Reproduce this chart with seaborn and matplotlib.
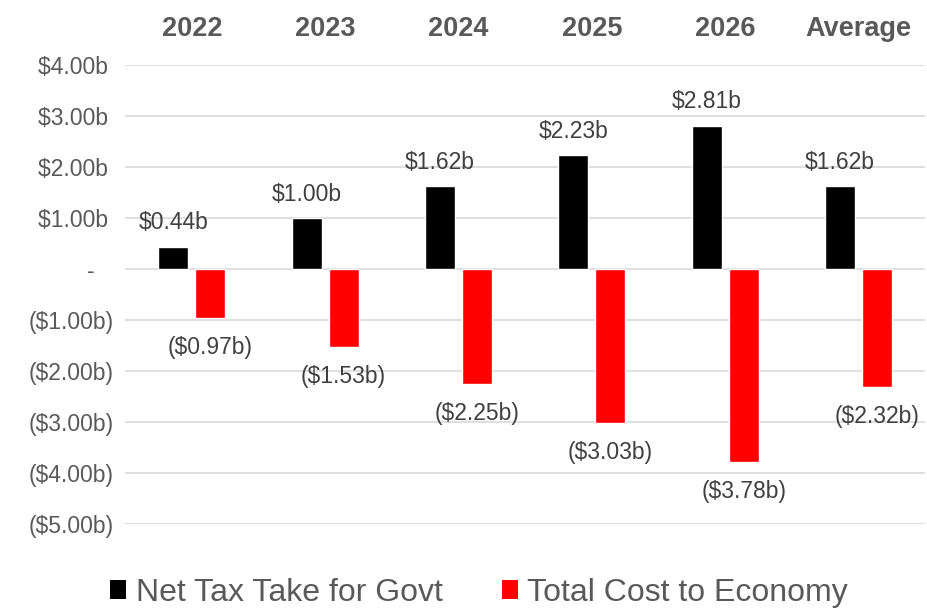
import matplotlib
matplotlib.use("Agg")
import matplotlib.pyplot as plt
import seaborn as sns
import pandas as pd
from matplotlib.patches import Patch

# data (billions)
years = ["2022", "2023", "2024", "2025", "2026", "Average"]
net_tax = [0.44, 1.00, 1.62, 2.23, 2.81, 1.62]
total_cost = [-0.97, -1.53, -2.25, -3.03, -3.78, -2.32]
series = ["Net Tax Take for Govt", "Total Cost to Economy"]
colors = ["#000000", "#ff0000"]
y_ticks = [4, 3, 2, 1, 0, -1, -2, -3, -4, -5]

df = pd.DataFrame({
    "year": years * 2,
    "value": net_tax + total_cost,
    "series": [series[0]] * len(years) + [series[1]] * len(years),
})

sns.set_style("white")
plt.rcParams["font.family"] = ["Liberation Sans", "DejaVu Sans"]
grey = "#595959"


def money(v):
    if abs(v) < 1e-9:
        return "-   "
    if v < 0:
        return f"(${abs(v):.2f}b)"
    return f"${v:.2f}b "


fig = plt.figure(figsize=(9.27, 6.09), dpi=100)
ax = fig.add_axes([0.135, 0.140, 0.863, 0.753])

sns.barplot(data=df, x="year", y="value", hue="series", hue_order=series,
            palette=colors, width=0.556, gap=0.19, ax=ax, legend=False,
            saturation=1)

ax.set_ylim(-5, 4)
ax.set_xlim(-0.5, 5.5)
ax.set_yticks(y_ticks)
ax.set_yticklabels([money(v) for v in y_ticks])
ax.grid(axis="y", color="#d9d9d9", linewidth=1.2)
ax.set_axisbelow(True)
ax.set_xlabel("")
ax.set_ylabel("")
for s in ax.spines.values():
    s.set_visible(False)

ax.tick_params(axis="y", length=0, pad=8, labelsize=16.5, labelcolor=grey)
ax.tick_params(axis="x", length=0, top=False, labeltop=True, bottom=False,
               labelbottom=False, pad=17, labelsize=19.5, labelcolor=grey)
for t in ax.get_xticklabels():
    t.set_fontweight("bold")

# value labels: above black bars, below red bars
for cont, vals, pad in zip(ax.containers, [net_tax, total_cost], [9, 13]):
    ax.bar_label(cont, labels=[money(v).strip() for v in vals], padding=pad,
                 fontsize=16.5, color="#404040")

handles = [Patch(facecolor=c, edgecolor="none") for c in colors]
fig.legend(handles, series, loc="center left",
           bbox_to_anchor=(110 / 927, 1 - 593 / 609), ncol=2, frameon=False,
           labelcolor=grey, handlelength=0.5, handleheight=0.55,
           handletextpad=0.3, columnspacing=1.85, borderpad=0, borderaxespad=0,
           prop={"size": 23})

fig.savefig("out.png", dpi=100)
